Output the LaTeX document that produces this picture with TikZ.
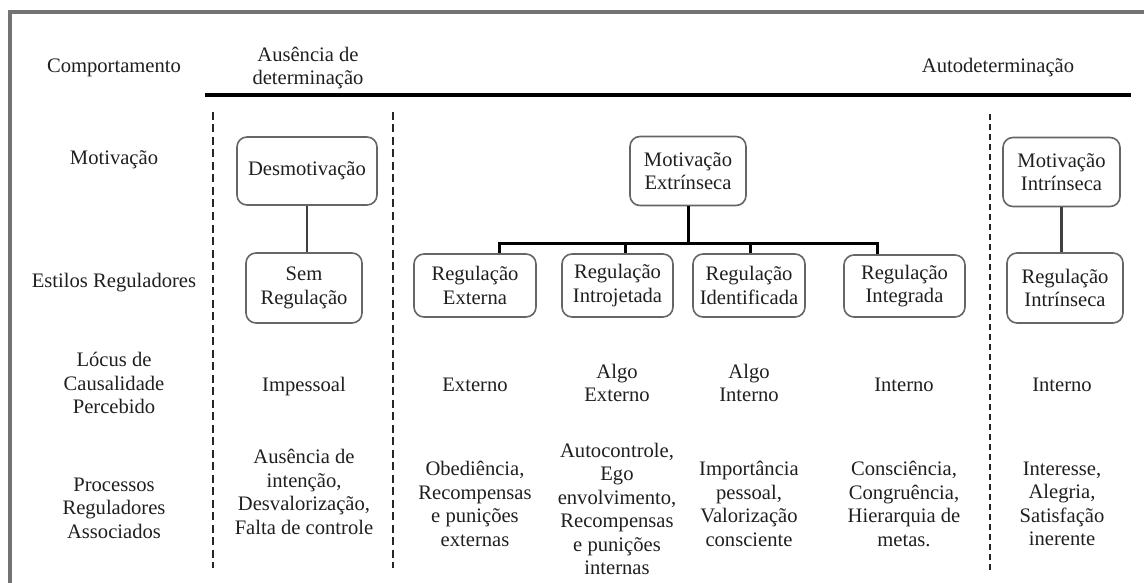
\documentclass[tikz,border=0pt]{standalone}
\usepackage{fontspec}
\setmainfont{Liberation Serif}
\begin{document}
\begin{tikzpicture}[x=1pt,y=-1pt,
  every node/.style={font=\fontsize{20.6}{23.5}\selectfont, text=black!88},
  txt/.style={align=center, inner sep=0pt},
  rbox/.style={draw=black!60, line width=1.6pt, rounded corners=10pt, align=center, inner sep=0pt},
  conn/.style={draw=black, line width=3pt},
  conn2/.style={draw=black!75, line width=2.4pt},
  sep/.style={draw=black!85, line width=2.6pt, dash pattern=on 8pt off 4.5pt},
  frame/.style={draw=black!55, line width=3.2pt}]
\useasboundingbox (0,0) rectangle (1144,583);
% frame (cropped)
\coordinate (f1) at (10,583);
\coordinate (f2) at (10,12);
\coordinate (f3) at (1144,12);
\draw[frame] (f1) -- (f2) -- (f3);
% header
\node[txt] (comp) at (114,68) {Comportamento};
\node[txt] (aus) at (308,68) {Ausência de\\determinação};
\node[txt] (auto) at (998,68) {Autodeterminação};
\coordinate (hl1) at (205,95);
\coordinate (hl2) at (1131,95);
\draw[draw=black, line width=3.4pt] (hl1) -- (hl2);
% separators
\coordinate (d1a) at (213,112); \coordinate (d1b) at (213,568);
\coordinate (d2a) at (393,112); \coordinate (d2b) at (393,568);
\coordinate (d3a) at (990,114); \coordinate (d3b) at (990,572);
\draw[sep] (d1a) -- (d1b);
\draw[sep] (d2a) -- (d2b);
\draw[sep, line width=2.2pt, dash pattern=on 6pt off 4pt] (d3a) -- (d3b);
% row labels
\node[txt] (lmot) at (114,160) {Motivação};
\node[txt] (lest) at (114,283) {Estilos Reguladores};
\node[txt] (lloc) at (114,383) {Lócus de\\Causalidade\\Percebido};
\node[txt] (lproc) at (114,508) {Processos\\Reguladores\\Associados};
% boxes
\node[rbox, minimum width=140pt, minimum height=68pt] (desm) at (307,171) {Desmotivação};
\node[rbox, minimum width=116pt, minimum height=70pt] (sem) at (304,288) {Sem\\Regulação};
\node[rbox, minimum width=116pt, minimum height=69pt] (mext) at (688,171) {Motivação\\Extrínseca};
\node[rbox, minimum width=122pt, minimum height=63pt] (rext) at (475,285.5) {Regulação\\Externa};
\node[rbox, minimum width=111pt, minimum height=63pt] (rintro) at (617.5,285.5) {Regulação\\Introjetada};
\node[rbox, minimum width=112pt, minimum height=63pt] (rident) at (749,285.5) {Regulação\\Identificada};
\node[rbox, minimum width=121pt, minimum height=62pt] (rinteg) at (904.5,286) {Regulação\\Integrada};
\node[rbox, minimum width=117pt, minimum height=69pt] (mint) at (1061.5,172) {Motivação\\Intrínseca};
\node[rbox, minimum width=116pt, minimum height=70pt] (rint) at (1065,288) {Regulação\\Intrínseca};
% connectors
\draw[conn2] (desm.south) -- (desm.south |- sem.north);
\draw[conn2] (mint.south) -- (mint.south |- rint.north);
\coordinate (b1) at (499,243);
\coordinate (b2) at (625,243);
\coordinate (b3) at (750,243);
\coordinate (b4) at (877,243);
\draw[conn] (mext.south) -- (mext.south |- b1);
\draw[conn, line cap=rect] (b1) -- (b4);
\draw[conn] (b1) -- (b1 |- rext.north);
\draw[conn] (b2) -- (b2 |- rintro.north);
\draw[conn] (b3) -- (b3 |- rident.north);
\draw[conn] (b4) -- (b4 |- rinteg.north);
% locus row
\node[txt] (limp) at (304,387) {Impessoal};
\node[txt] (lext) at (475,385) {Externo};
\node[txt] (lalgoe) at (617,383) {Algo\\Externo};
\node[txt] (lalgoi) at (749,383) {Algo\\Interno};
\node[txt] (lint1) at (904,385) {Interno};
\node[txt] (lint2) at (1062,385) {Interno};
% processes row
\node[txt] (pdes) at (304,492) {Ausência de\\intenção,\\Desvalorização,\\Falta de controle};
\node[txt] (pext) at (475,504) {Obediência,\\Recompensas\\e punições\\externas};
\node[txt] (pintro) at (617,509) {Autocontrole,\\Ego\\envolvimento,\\Recompensas\\e punições\\internas};
\node[txt] (pident) at (749,504) {Importância\\pessoal,\\Valorização\\consciente};
\node[txt] (pinteg) at (904,504) {Consciência,\\Congruência,\\Hierarquia de\\metas.};
\node[txt] (pint) at (1062,504) {Interesse,\\Alegria,\\Satisfação\\inerente};
\end{tikzpicture}
\end{document}
